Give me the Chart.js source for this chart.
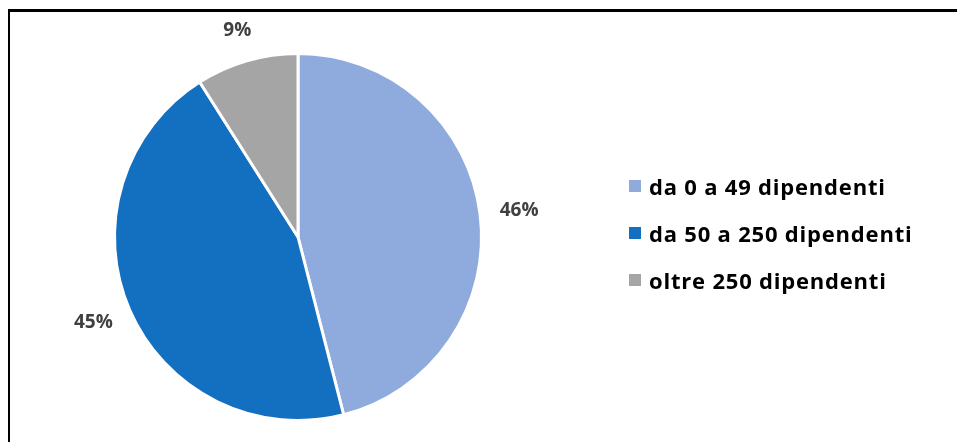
<!DOCTYPE html>
<html>
<head>
<meta charset="utf-8">
<script src="https://cdn.jsdelivr.net/npm/chart.js@4"></script>
<style>
  html, body { margin: 0; padding: 0; background: #fff; overflow: hidden; }
  #wrap { position: relative; width: 957px; height: 442px; overflow: hidden; }
  #chart { position: absolute; left: 0; top: 0; }
  #legend { position: absolute; left: 629px; top: 171px; font-family: 'Open Sans', sans-serif;
            font-weight: bold; font-size: 22px; letter-spacing: 0.8px; color: #000; }
  .item { height: 47px; display: flex; align-items: flex-start; line-height: 30px; }
  .box { width: 12px; height: 12px; margin-top: 9px; margin-right: 8px; }
</style>
</head>
<body>
<div id="wrap">
  <canvas id="chart" width="957" height="442"></canvas>
  <div id="legend"></div>
</div>
<script>
const categories = ['da 0 a 49 dipendenti', 'da 50 a 250 dipendenti', 'oltre 250 dipendenti'];
const shares = [46, 45, 9];
const sliceColors = ['#8FAADC', '#136FC0', '#A5A5A5'];

const ch = document.getElementById('chart');

// black frame: only top and left edges are in view
const frame = {
    id: 'frame',
    beforeDraw(chart) {
        const ctx = chart.ctx;
        ctx.save();
        ctx.fillStyle = '#000';
        ctx.fillRect(8, 9, chart.width, 3);
        ctx.fillRect(8, 9, 2, chart.height);
        ctx.restore();
    }
};

// percent labels just outside each slice, box kept ~20px off the edge
const outsideLabels = {
    id: 'outsideLabels',
    afterDatasetsDraw(chart) {
        const ctx = chart.ctx;
        const meta = chart.getDatasetMeta(0);
        ctx.save();
        ctx.font = 'bold 19px "Open Sans"';
        ctx.fillStyle = '#404040';
        ctx.textAlign = 'center';
        ctx.textBaseline = 'middle';
        meta.data.forEach((arc, i) => {
            const txt = shares[i] + '%';
            const w = ctx.measureText(txt).width, h = 22;
            const mid = (arc.startAngle + arc.endAngle) / 2;
            const c = Math.cos(mid), s = Math.sin(mid);
            const d = arc.outerRadius + 20;
            ctx.fillText(txt, arc.x + c * d + c * w / 2, arc.y + s * d + s * h / 2);
        });
        ctx.restore();
    }
};

new Chart(ch, {
    type: 'pie',
    data: {
        labels: categories,
        datasets: [{
            data: shares,
            backgroundColor: sliceColors,
            borderColor: '#fff',
            borderWidth: 3
        }]
    },
    options: {
        responsive: false,
        animation: false,
        layout: { padding: { left: 0, right: 361, top: 52, bottom: 20 } },
        plugins: {
            legend: { display: false },
            tooltip: { enabled: false }
        }
    },
    plugins: [frame, outsideLabels]
});

const lg = document.getElementById('legend');
categories.forEach((c, i) => {
    const row = document.createElement('div');
    row.className = 'item';
    row.innerHTML = '<span class="box" style="background:' + sliceColors[i] + '"></span><span>' + c + '</span>';
    lg.appendChild(row);
});
</script>
</body>
</html>
